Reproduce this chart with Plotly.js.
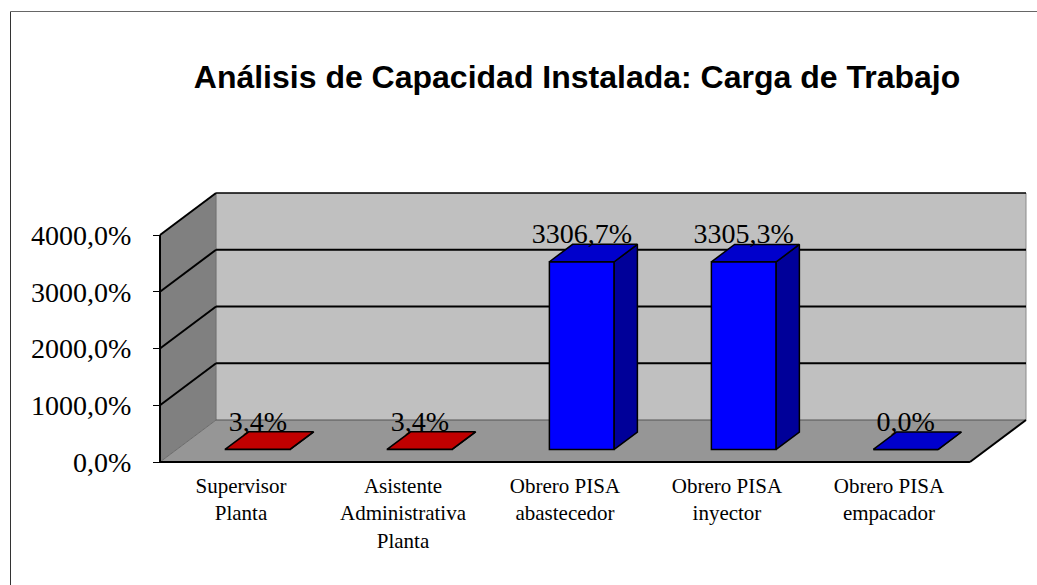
<!DOCTYPE html>
<html>
<head>
<meta charset="utf-8">
<script src="https://cdn.plot.ly/plotly-3.0.1.min.js"></script>
<style>
  html, body { margin: 0; padding: 0; background: #ffffff; }
  #chart { width: 1037px; height: 585px; }
</style>
</head>
<body>
<div id="chart"></div>
<script>
// ---------------- DATA ----------------
const categories = [
  'Supervisor<br>Planta',
  'Asistente<br>Administrativa<br>Planta',
  'Obrero PISA<br>abastecedor',
  'Obrero PISA<br>inyector',
  'Obrero PISA<br>empacador'
];
const values = [3.4, 3.4, 3306.7, 3305.3, 0.0];
const yTickVals = [0, 1000, 2000, 3000, 4000];
const chartTitle = 'Análisis de Capacidad Instalada: Carga de Trabajo';

// ---------------- STYLE ----------------
const frontColors = ['#FF0000', '#FF0000', '#0000FF', '#0000FF', '#0000FF'];
const topColors   = ['#C00000', '#C00000', '#0000CC', '#0000CC', '#0000CC'];
const sideColors  = ['#990000', '#990000', '#000099', '#000099', '#000099'];
const SERIF = '"Liberation Serif", "Times New Roman", serif';
const SANS = '"Liberation Sans", Arial, sans-serif';

// 3D projection (in axis units)
const DX = 0.346;    // depth offset along category axis
const DY = 740;      // depth offset along value axis
const BAR_W = 0.4;   // bar width (category units)
const F1 = 0.30;     // bar front depth fraction
const F2 = 0.714;    // bar back depth fraction
const YMAX = yTickVals[yTickVals.length - 1];
const X0 = -0.5, X1 = categories.length - 0.5;

// plot area in pixels
const plotL = 156, plotW = 874, plotB = 466, plotH = 277;

// padding so wall strokes are not clipped
const XPAD = 0.0247, YPAD = 70.5;
const xRange = [X0 - XPAD, X1 + DX + XPAD];
const yRange = [-YPAD, YMAX + DY + YPAD];
const xPos = (0 - yRange[0]) / (yRange[1] - yRange[0]);
const yPos = (X0 - xRange[0]) / (xRange[1] - xRange[0]);
const unitsPerPx = (yRange[1] - yRange[0]) / plotH;
const LABEL_DROP = 6 * unitsPerPx;

const idx = categories.map((_, i) => i);
const offset = -BAR_W / 2 + F1 * DX;
const b1 = F1 * DY, b2 = F2 * DY, dd = (F2 - F1) * DX;
const fmt = v => v.toFixed(1).replace('.', ',') + '%';

const traces = [];
// front faces
traces.push({
  type: 'bar', x: idx, y: values, base: b1, width: BAR_W, offset: offset,
  marker: { color: frontColors, line: { color: '#000000', width: 1.5 } },
  hoverinfo: 'skip', xaxis: 'x', yaxis: 'y'
});
// top and side faces
values.forEach((v, i) => {
  const xa = i + offset, xb = xa + BAR_W;
  traces.push({
    type: 'scatter', mode: 'lines', fill: 'toself', fillcolor: sideColors[i],
    x: [xb, xb, xb + dd, xb + dd, xb], y: [b1, v + b1, v + b2, b2, b1],
    line: { color: '#000000', width: 1.5 }, hoverinfo: 'skip'
  });
  traces.push({
    type: 'scatter', mode: 'lines', fill: 'toself', fillcolor: topColors[i],
    x: [xa, xb, xb + dd, xa + dd, xa], y: [v + b1, v + b1, v + b2, v + b2, v + b1],
    line: { color: '#000000', width: 1.5 }, hoverinfo: 'skip'
  });
});
// data labels
traces.push({
  type: 'scatter', mode: 'text',
  x: idx.map(i => i + offset + BAR_W / 2),
  y: values.map(v => v + b2 - LABEL_DROP),
  text: values.map(fmt), textposition: 'top center',
  textfont: { family: SERIF, size: 28, color: '#000000' },
  cliponaxis: false, hoverinfo: 'skip'
});

// walls and grid
const shapes = [];
const L = (x0, y0, x1, y1, color, width) => ({
  type: 'line', xref: 'x', yref: 'y', x0, y0, x1, y1, layer: 'below',
  line: { color, width }
});
const P = (path, fill) => ({
  type: 'path', xref: 'x', yref: 'y', path, fillcolor: fill, layer: 'below',
  line: { width: 0 }
});
shapes.push(P(`M ${X0+DX},${DY} L ${X1+DX},${DY} L ${X1+DX},${YMAX+DY} L ${X0+DX},${YMAX+DY} Z`, '#C0C0C0'));
shapes.push(P(`M ${X0},0 L ${X0},${YMAX} L ${X0+DX},${YMAX+DY} L ${X0+DX},${DY} Z`, '#808080'));
shapes.push(P(`M ${X0},0 L ${X1},0 L ${X1+DX},${DY} L ${X0+DX},${DY} Z`, '#969696'));
// wall edges
shapes.push(L(X1 + DX, DY, X1 + DX, YMAX + DY, '#8a8a8a', 1));
shapes.push(L(X0 + DX, DY, X0 + DX, YMAX + DY, '#707070', 1));
shapes.push(L(X0 + DX, DY, X1 + DX, DY, '#555555', 1.2));
shapes.push(L(X0, 0, X0 + DX, DY, '#6a6a6a', 1));
// gridlines (back wall + side wall)
yTickVals.filter(t => t > 0).forEach(t => {
  shapes.push(L(X0 + DX, t + DY, X1 + DX, t + DY, '#000000', t === YMAX ? 1.5 : 2));
  shapes.push(L(X0, t, X0 + DX, t + DY, '#000000', 2));
});
// floor front / right edges and value axis line
shapes.push(L(X0, 0, X1, 0, '#000000', 2));
shapes.push(L(X1, 0, X1 + DX, DY, '#000000', 2));
shapes.push(L(X0, 0, X0, YMAX, '#000000', 2));
// outer chart border (left + top)
const px2x = p => (p - plotL) / plotW;
const px2y = p => (plotB - p) / plotH;
shapes.push({ type: 'line', xref: 'paper', yref: 'paper', x0: px2x(10.5), y0: px2y(11.5), x1: px2x(10.5), y1: px2y(600), line: { color: '#333333', width: 1 } });
shapes.push({ type: 'line', xref: 'paper', yref: 'paper', x0: px2x(10.5), y0: px2y(11.5), x1: px2x(1050), y1: px2y(11.5), line: { color: '#666666', width: 1 } });

const layout = {
  width: 1037, height: 585,
  margin: { l: plotL, r: 1037 - plotL - plotW, t: plotB - plotH, b: 585 - plotB, pad: 0 },
  paper_bgcolor: '#ffffff', plot_bgcolor: 'rgba(0,0,0,0)',
  showlegend: false, hovermode: false,
  separators: ',.',
  title: {
    text: chartTitle, x: 577 / 1037, xanchor: 'center', xref: 'container',
    y: 1 - 77 / 585, yanchor: 'middle', yref: 'container',
    font: { family: SANS, size: 32, weight: 'bold', color: '#000000' }
  },
  xaxis: {
    type: 'linear', range: xRange, anchor: 'free', position: xPos,
    tickvals: idx, ticktext: categories, ticks: '', showline: false,
    showgrid: false, zeroline: false, ticklabelstandoff: 9,
    tickfont: { family: SERIF, size: 21, color: '#000000' }
  },
  xaxis2: {
    type: 'linear', range: xRange, overlaying: 'x', anchor: 'free', position: xPos,
    side: 'bottom', tickvals: [...idx.map(i => i - 0.5), X1],
    showticklabels: false, ticks: 'outside', ticklen: 6, tickwidth: 1,
    tickcolor: '#000000', showline: false, showgrid: false, zeroline: false
  },
  yaxis: {
    type: 'linear', range: yRange, anchor: 'free', position: yPos,
    tickvals: yTickVals, ticktext: yTickVals.map(fmt),
    ticks: 'outside', ticklen: 7, tickwidth: 1, tickcolor: '#000000',
    showline: false, showgrid: false, zeroline: false, ticklabelstandoff: 16,
    tickfont: { family: SERIF, size: 28, color: '#000000' }
  },
  shapes: shapes
};

Plotly.newPlot('chart', traces, layout, { staticPlot: true, displayModeBar: false });
</script>
</body>
</html>
